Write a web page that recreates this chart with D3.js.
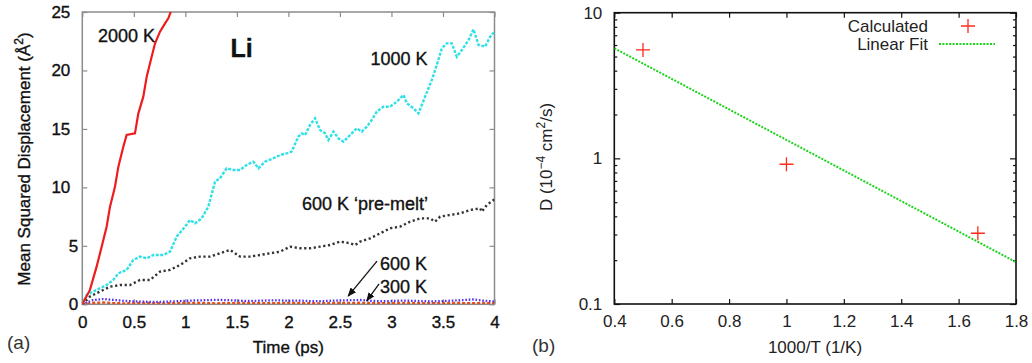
<!DOCTYPE html>
<html><head><meta charset="utf-8">
<script src="https://cdn.jsdelivr.net/npm/d3@7"></script>
<style>
body{margin:0;background:#fff}
svg{display:block}
text{font-family:"Liberation Sans",Arial,Helvetica,sans-serif}
.heavy text, text.heavy{stroke:#111;stroke-width:0.35px}
</style>
</head><body>
<svg id="c" width="1032" height="363"></svg>
<script>
// ---------- Panel (a) data: MSD vs time ----------
const xTicksA = [0, 0.5, 1, 1.5, 2, 2.5, 3, 3.5, 4];
const yTicksA = [0, 5, 10, 15, 20, 25];

const t2000 = [0,0.074,0.139,0.188,0.236,0.269,0.317,0.35,0.398,0.43,0.511,0.544,0.592,0.625,0.673,0.706,0.754,0.803,0.835,0.858,0.9];
const msd2000 = [0,1.23,3.22,4.93,6.64,8.35,10.06,11.77,13.48,14.48,14.62,16.33,17.76,19.47,21.18,22.32,23.32,24.03,24.46,25,26.5];

const t1000 = [0,0.042,0.139,0.236,0.30,0.35,0.43,0.495,0.56,0.625,0.69,0.786,0.851,0.916,0.997,1.045,1.094,1.158,1.223,1.288,1.337,1.401,1.466,1.531,1.595,1.66,1.709,1.773,1.854,1.919,1.984,2.032,2.097,2.129,2.162,2.21,2.259,2.307,2.356,2.388,2.437,2.485,2.534,2.599,2.663,2.712,2.761,2.809,2.858,2.922,2.987,3.052,3.117,3.149,3.214,3.262,3.327,3.392,3.44,3.489,3.537,3.586,3.634,3.683,3.748,3.796,3.845,3.909,3.958,4.0];
const msd1000 = [0,0.80,1.23,1.65,2.08,2.65,2.94,3.79,4.08,3.93,4.22,4.22,4.5,5.79,6.64,7.21,6.93,7.35,8.35,10.49,10.78,11.63,11.49,11.49,11.92,12.2,11.63,12.2,12.49,12.77,12.91,13.06,14.34,14.62,14.48,15.34,15.91,14.91,14.62,14.05,14.77,14.2,13.91,14.48,15.05,14.77,15.19,15.76,16.48,16.9,16.9,17.33,17.9,17.19,16.76,16.33,17.76,19.19,20.47,21.89,22.32,22.32,21.18,21.75,22.6,23.52,22.18,22.04,22.89,23.32];

const t600pm = [0,0.074,0.17,0.27,0.366,0.463,0.56,0.657,0.754,0.85,0.948,1.045,1.142,1.239,1.337,1.434,1.482,1.531,1.628,1.725,1.822,1.919,2.016,2.113,2.21,2.307,2.405,2.502,2.599,2.647,2.696,2.793,2.89,2.987,3.084,3.181,3.278,3.375,3.424,3.472,3.57,3.667,3.764,3.861,3.877,3.926,4.0];
const msd600pm = [0,0.66,1.08,1.51,1.65,1.65,2.08,2.08,2.79,2.94,3.36,3.93,4.08,4.08,4.36,4.65,4.36,4.08,4.08,4.22,4.36,4.5,4.93,4.79,4.79,4.93,5.07,5.36,5.22,5.07,5.36,5.64,6.07,6.5,6.64,7.07,7.35,7.35,7.07,7.5,7.64,7.78,8.07,8.21,7.92,8.5,8.98];

const tLow = [0,0.1,0.2,0.3,0.4,0.5,0.6,0.7,0.8,0.9,1.0,1.1,1.2,1.3,1.4,1.5,1.6,1.7,1.8,1.9,2.0,2.1,2.2,2.3,2.4,2.5,2.6,2.7,2.8,2.9,3.0,3.1,3.2,3.3,3.4,3.5,3.6,3.7,3.8,3.9,4.0];
const msd600 = [0,0.35,0.45,0.38,0.30,0.25,0.22,0.20,0.22,0.26,0.30,0.33,0.35,0.38,0.36,0.32,0.28,0.30,0.33,0.34,0.30,0.32,0.28,0.26,0.30,0.33,0.35,0.37,0.30,0.26,0.28,0.32,0.30,0.27,0.25,0.28,0.32,0.36,0.42,0.30,0.24];
const msd300 = [0,0.12,0.15,0.10,0.08,0.10,0.12,0.09,0.08,0.10,0.11,0.12,0.10,0.08,0.09,0.11,0.12,0.10,0.09,0.10,0.12,0.11,0.09,0.08,0.10,0.12,0.11,0.13,0.10,0.09,0.10,0.12,0.11,0.09,0.10,0.11,0.12,0.10,0.09,0.10,0.11];

// ---------- Panel (b) data: Arrhenius ----------
const xTicksB = [0.4, 0.6, 0.8, 1, 1.2, 1.4, 1.6, 1.8];
const yTicksB = [0.1, 1, 10];
const yMinorB = [0.2,0.3,0.4,0.5,0.6,0.7,0.8,0.9,2,3,4,5,6,7,8,9];
const invT = [0.5, 1.0, 1.667];
const diffD = [5.55, 0.911, 0.306];
const fitX = [0.4, 1.8];
const fitD = [5.7, 0.194];

const svg = d3.select("#c");

// ================= Panel (a) =================
const xA = d3.scaleLinear().domain([0, 4]).range([82.3, 494.5]);
const yA = d3.scaleLinear().domain([0, 25]).range([304.3, 12]);
const gA = svg.append("g").attr("class","heavy");
const frameA = "#8c8c8c";

gA.append("clipPath").attr("id","clipA").append("rect")
  .attr("x", xA(0)).attr("y", yA(25)).attr("width", xA(4)-xA(0)).attr("height", yA(0)-yA(25));

const axBA = gA.append("g").attr("transform",`translate(0,${yA(0)})`)
  .call(d3.axisBottom(xA).tickValues(xTicksA).tickSize(-5).tickPadding(12).tickFormat(d=>String(d)));
const axTA = gA.append("g").attr("transform",`translate(0,${yA(25)})`)
  .call(d3.axisTop(xA).tickValues(xTicksA).tickSize(-5).tickFormat(""));
const axLA = gA.append("g").attr("transform",`translate(${xA(0)},0)`)
  .call(d3.axisLeft(yA).tickValues(yTicksA).tickSize(-5).tickPadding(12).tickFormat(d=>String(d)));
const axRA = gA.append("g").attr("transform",`translate(${xA(4)},0)`)
  .call(d3.axisRight(yA).tickValues(yTicksA).tickSize(-5).tickFormat(""));
[axBA, axTA, axLA, axRA].forEach(a=>{
  a.select(".domain").remove();
  a.selectAll(".tick line").attr("stroke", frameA).attr("stroke-width",1.2);
  a.selectAll("text").attr("font-size",17).attr("fill","#111").attr("font-family",null);
});
axLA.selectAll(".tick text").attr("x", d => String(d).length > 1 ? -12 : -4);

gA.append("rect").attr("x", xA(0)).attr("y", yA(25)).attr("width", xA(4)-xA(0)).attr("height", yA(0)-yA(25))
  .attr("fill","none").attr("stroke", frameA).attr("stroke-width",1.5);

const lineA = (ts, vs) => d3.line().x((d,i)=>xA(ts[i])).y((d,i)=>yA(vs[i]))(vs);
const plotA = gA.append("g").attr("clip-path","url(#clipA)");
plotA.append("path").attr("d", lineA(tLow, msd300)).attr("fill","none")
  .attr("stroke","#e0501a").attr("stroke-width",2.4).attr("stroke-dasharray","3,2");
plotA.append("path").attr("d", lineA(tLow, msd600)).attr("fill","none")
  .attr("stroke","#5533ee").attr("stroke-width",2.3).attr("stroke-dasharray","1.6,1.8");
plotA.append("path").attr("d", lineA(t600pm, msd600pm)).attr("fill","none")
  .attr("stroke","#333").attr("stroke-width",2.4).attr("stroke-dasharray","2.2,2.6");
plotA.append("path").attr("d", lineA(t1000, msd1000)).attr("fill","none")
  .attr("stroke","#2fe0e6").attr("stroke-width",2.4).attr("stroke-dasharray","3,1.5");
plotA.append("path").attr("d", lineA(t2000, msd2000)).attr("fill","none")
  .attr("stroke","#ee1c1c").attr("stroke-width",2.2);

const ann = [
  {t:0.429, v:22.95, s:"2000 K", a:"middle"},
  {t:3.073, v:20.98, s:"1000 K", a:"middle"},
  {t:2.743, v:8.58, s:"600 K \u2018pre-melt\u2019", a:"middle"},
  {t:2.888, v:3.45, s:"600 K", a:"start"},
  {t:2.888, v:1.48, s:"300 K", a:"start"}
];
gA.selectAll("text.ann").data(ann).enter().append("text").attr("class","ann")
  .attr("x", d=>xA(d.t)).attr("y", d=>yA(d.v)).attr("dy","0.36em")
  .attr("text-anchor", d=>d.a).attr("font-size",18).attr("fill","#111").text(d=>d.s);
gA.append("text").attr("x", xA(1.545)).attr("y", yA(21.9)).attr("dy","0.36em")
  .attr("text-anchor","middle").attr("font-size",25).attr("font-weight","bold").attr("fill","#111").text("Li");

svg.append("defs").append("marker").attr("id","arr").attr("viewBox","0 0 10 10")
  .attr("refX",9).attr("refY",5).attr("markerWidth",9).attr("markerHeight",9)
  .attr("markerUnits","userSpaceOnUse").attr("orient","auto")
  .append("path").attr("d","M0,1 L10,5 L0,9 Z").attr("fill","#111");
const arrows = [
  {t0:2.86, v0:3.7, t1:2.58, v1:0.7},
  {t0:2.88, v0:1.75, t1:2.76, v1:0.3}
];
gA.selectAll("line.arrow").data(arrows).enter().append("line").attr("class","arrow")
  .attr("x1", d=>xA(d.t0)).attr("y1", d=>yA(d.v0)).attr("x2", d=>xA(d.t1)).attr("y2", d=>yA(d.v1))
  .attr("stroke","#111").attr("stroke-width",1.3).attr("marker-end","url(#arr)");

gA.append("text").attr("x", (xA(0)+xA(4))/2).attr("y", 353).attr("text-anchor","middle")
  .attr("font-size",17).attr("fill","#111").text("Time (ps)");
const ytA = gA.append("text").attr("transform","translate(30,159) rotate(-90)").attr("text-anchor","middle")
  .attr("font-size",17).attr("fill","#111");
ytA.append("tspan").text("Mean Squared Displacement (\u00C5");
ytA.append("tspan").attr("font-size",12).attr("dy",-7).text("2");
ytA.append("tspan").attr("dy",7).text(")");
svg.append("text").attr("x",7).attr("y",349).attr("font-size",19).attr("fill","#333").text("(a)");

// ================= Panel (b) =================
const xB = d3.scaleLinear().domain([0.4, 1.8]).range([614.3, 1016]);
const yB = d3.scaleLog().domain([0.1, 10]).range([304, 12.7]);
const gB = svg.append("g");

gB.append("clipPath").attr("id","clipB").append("rect")
  .attr("x", xB(0.4)).attr("y", yB(10)).attr("width", xB(1.8)-xB(0.4)).attr("height", yB(0.1)-yB(10));

const axBB = gB.append("g").attr("transform",`translate(0,${yB(0.1)})`)
  .call(d3.axisBottom(xB).tickValues(xTicksB).tickSize(-5).tickPadding(11).tickFormat(d=>String(d)));
const axTB = gB.append("g").attr("transform",`translate(0,${yB(10)})`)
  .call(d3.axisTop(xB).tickValues(xTicksB).tickSize(-5).tickFormat(""));
const axLB = gB.append("g").attr("transform",`translate(${xB(0.4)},0)`)
  .call(d3.axisLeft(yB).tickValues(yTicksB).tickSize(-6).tickPadding(12).tickFormat(d=>String(d)));
const axRB = gB.append("g").attr("transform",`translate(${xB(1.8)},0)`)
  .call(d3.axisRight(yB).tickValues(yTicksB).tickSize(-6).tickFormat(""));
const axLBm = gB.append("g").attr("transform",`translate(${xB(0.4)},0)`)
  .call(d3.axisLeft(yB).tickValues(yMinorB).tickSize(-3).tickFormat(""));
const axRBm = gB.append("g").attr("transform",`translate(${xB(1.8)},0)`)
  .call(d3.axisRight(yB).tickValues(yMinorB).tickSize(-3).tickFormat(""));
[axBB, axTB, axLB, axRB, axLBm, axRBm].forEach(a=>{
  a.select(".domain").remove();
  a.selectAll(".tick line").attr("stroke","#111").attr("stroke-width",1.2);
  a.selectAll("text").attr("font-size",17).attr("fill","#222").attr("font-family",null);
});
gB.append("rect").attr("x", xB(0.4)).attr("y", yB(10)).attr("width", xB(1.8)-xB(0.4)).attr("height", yB(0.1)-yB(10))
  .attr("fill","none").attr("stroke","#111").attr("stroke-width",1.6);

const plotB = gB.append("g").attr("clip-path","url(#clipB)");
plotB.append("path").attr("d", d3.line().x((d,i)=>xB(fitX[i])).y((d,i)=>yB(fitD[i]))(fitD))
  .attr("fill","none").attr("stroke","#1bd41b").attr("stroke-width",2).attr("stroke-dasharray","2,1.4");
const plus = (g, cx, cy, r) => g.append("path")
  .attr("d",`M${cx-r},${cy}H${cx+r}M${cx},${cy-r}V${cy+r}`)
  .attr("stroke","#ff2a1a").attr("stroke-width",1.3).attr("fill","none");
invT.forEach((x,i)=>plus(plotB, xB(x), yB(diffD[i]), 7));

gB.append("text").attr("x",928).attr("y",32).attr("text-anchor","end").attr("font-size",17).attr("fill","#222").text("Calculated");
plus(gB, 968, 26, 7);
gB.append("text").attr("x",928).attr("y",50).attr("text-anchor","end").attr("font-size",17).attr("fill","#222").text("Linear Fit");
gB.append("line").attr("x1",939).attr("x2",995).attr("y1",44).attr("y2",44)
  .attr("stroke","#1bd41b").attr("stroke-width",2).attr("stroke-dasharray","2,1.4");

gB.append("text").attr("x", 815).attr("y", 353).attr("text-anchor","middle")
  .attr("font-size",17).attr("fill","#222").text("1000/T (1/K)");
const ytB = gB.append("text").attr("transform","translate(552,157) rotate(-90)").attr("text-anchor","middle")
  .attr("font-size",17).attr("fill","#222");
ytB.append("tspan").text("D (10");
ytB.append("tspan").attr("font-size",12).attr("dy",-7).text("\u22124");
ytB.append("tspan").attr("dy",7).text(" cm");
ytB.append("tspan").attr("font-size",12).attr("dy",-7).text("2");
ytB.append("tspan").attr("dy",7).text("/s)");
gB.append("text").attr("x",532).attr("y",352).attr("font-size",19).attr("fill","#333").text("(b)");
</script>
</body></html>
